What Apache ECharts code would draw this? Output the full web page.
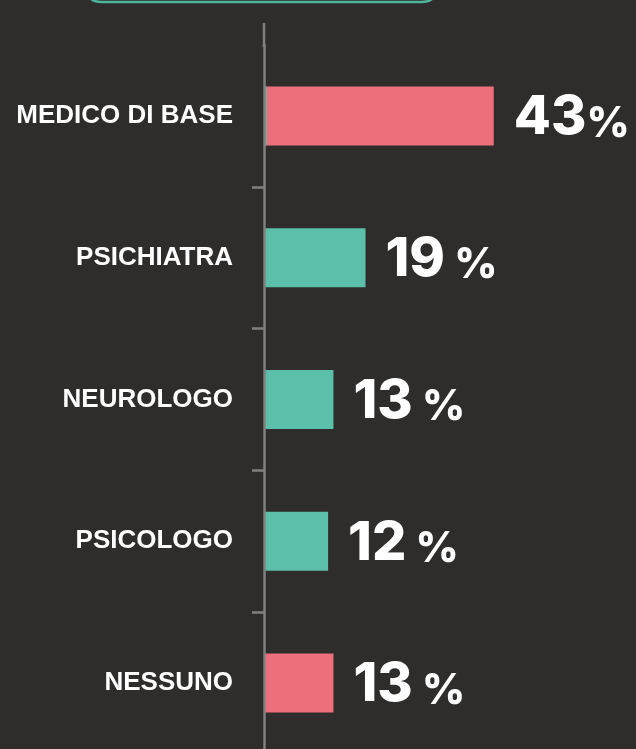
<!DOCTYPE html>
<html>
<head>
<meta charset="utf-8">
<script src="https://cdn.jsdelivr.net/npm/echarts@6/dist/echarts.min.js"></script>
<style>
  html, body { margin: 0; padding: 0; background: #2e2d2c; }
  #chart { width: 636px; height: 749px; }
</style>
</head>
<body>
<div id="chart"></div>
<script>
// dati
const categories = ['MEDICO DI BASE', 'PSICHIATRA', 'NEUROLOGO', 'PSICOLOGO', 'NESSUNO'];
const shares = [43, 19, 13, 12, 13];
const shareLabels = ['43%', '19 %', '13 %', '12 %', '13 %'];
const pinkRows = [true, false, false, false, true];
const tealSliver = [0.5, 0, 0, 0, 0]; // piccola striscia verde sotto la prima barra

const PINK = '#ee6f7c';
const TEAL = '#5cbfa9';
const AXIS = '#808080';

const chart = echarts.init(document.getElementById('chart'));

const pinkData = shares.map((v, i) => pinkRows[i] ? v : '-');
const tealData = shares.map((v, i) => pinkRows[i] ? (tealSliver[i] || '-') : v);

const valueLabel = {
  show: true,
  position: 'right',
  distance: 20,
  formatter: (p) => {
    if (p.value !== shares[p.dataIndex]) return '';
    const txt = shareLabels[p.dataIndex];
    const m = txt.match(/^(\d+)(.*)$/);
    return '{n|' + m[1] + '}{p|' + m[2] + '}';
  },
  rich: {
    n: { fontFamily: 'Inter', fontWeight: 800, fontSize: 54, color: '#fff', verticalAlign: 'bottom', lineHeight: 58 },
    p: { fontFamily: 'Inter', fontWeight: 800, fontSize: 42, color: '#fff', verticalAlign: 'bottom', lineHeight: 48 }
  }
};

const option = {
  backgroundColor: '#2e2d2c',
  animation: false,
  grid: { left: 264, top: 45, width: 374, height: 709, outerBoundsMode: 'none', containLabel: false },
  xAxis: { type: 'value', min: 0, max: 70, show: false },
  yAxis: {
    type: 'category',
    inverse: true,
    data: categories,
    z: 10,
    axisLine: { show: true, lineStyle: { color: AXIS, width: 2.5 } },
    axisTick: {
      show: true,
      length: 12,
      lineStyle: { color: AXIS, width: 2.5 },
      interval: 0
    },
    axisLabel: {
      margin: 31,
      color: '#fff',
      fontFamily: 'Liberation Sans, Arial, sans-serif',
      fontWeight: 'bold',
      fontSize: 26
    }
  },
  series: [
    {
      type: 'bar',
      data: pinkData,
      barWidth: 59,
      barGap: '-100%',
      z: 2,
      itemStyle: { color: PINK },
      label: valueLabel
    },
    {
      type: 'bar',
      data: tealData,
      barWidth: 59,
      barGap: '-100%',
      z: 3,
      itemStyle: { color: TEAL },
      label: valueLabel
    }
  ],
  graphic: [
    // cornice arrotondata in alto (tagliata dal bordo)
    { type: 'rect', shape: { x: 83, y: -60, width: 357, height: 62, r: 18 },
      style: { fill: '#2e2d2c', stroke: '#4fb49b', lineWidth: 2.5 } },
    // prolungamento dell'asse sopra la griglia
    { type: 'line', shape: { x1: 264, y1: 23, x2: 264, y2: 46 },
      style: { stroke: AXIS, lineWidth: 2.5 } },
    // copre la tacca sul bordo superiore della griglia
    { type: 'rect', z: 100, shape: { x: 245, y: 39, width: 17.5, height: 12 },
      style: { fill: '#2e2d2c' } }
  ]
};

chart.setOption(option);
</script>
</body>
</html>
